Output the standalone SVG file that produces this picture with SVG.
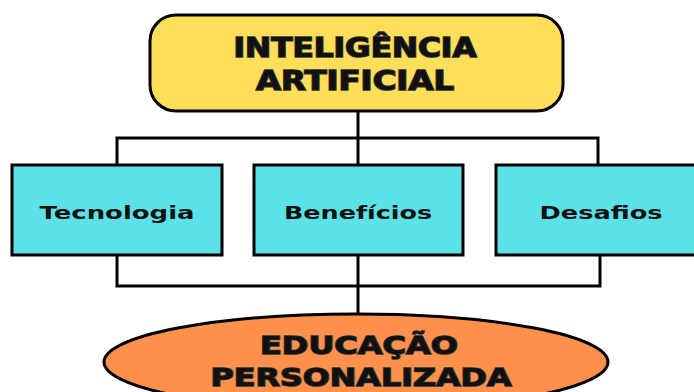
<svg xmlns="http://www.w3.org/2000/svg" width="694" height="392" viewBox="0 0 694 392">
<style>
.conn{fill:none;stroke:#000;stroke-width:3;stroke-linecap:square}
.box{fill:#5CE1E6;stroke:#000;stroke-width:3}
.big{font-family:"DejaVu Sans",sans-serif;font-weight:bold;font-size:26px;fill:#111;stroke:#333;stroke-width:1.6;paint-order:stroke;text-anchor:middle}
.lbl{font-family:"DejaVu Sans",sans-serif;font-weight:bold;font-size:17px;fill:#111;text-anchor:middle}
</style>
<rect width="694" height="392" fill="#fff"/>
<g id="connectors">
<path class="conn" d="M358 111V314"/>
<path class="conn" d="M117 165V138H598V165"/>
<path class="conn" d="M117 255V286H600V255"/>
</g>
<g id="ia">
<rect x="150" y="15" width="413" height="96" rx="26" fill="#FFDE59" stroke="#000" stroke-width="3"/>
<text class="big" x="355" y="57" textLength="243" lengthAdjust="spacingAndGlyphs">INTELIGÊNCIA</text>
<text class="big" x="355" y="90" textLength="198" lengthAdjust="spacingAndGlyphs">ARTIFICIAL</text>
</g>
<g id="tecnologia">
<rect class="box" x="12" y="165" width="210" height="90"/>
<text class="lbl" x="117" y="219" textLength="155" lengthAdjust="spacingAndGlyphs">Tecnologia</text>
</g>
<g id="beneficios">
<rect class="box" x="254" y="165" width="209" height="90"/>
<text class="lbl" x="358" y="219" textLength="148" lengthAdjust="spacingAndGlyphs">Benefícios</text>
</g>
<g id="desafios">
<rect class="box" x="496" y="165" width="210" height="90"/>
<text class="lbl" x="601" y="219" textLength="123" lengthAdjust="spacingAndGlyphs">Desafios</text>
</g>
<g id="educacao">
<ellipse cx="356" cy="362" rx="252" ry="48" fill="#FF914D" stroke="#000" stroke-width="3"/>
<text class="big" x="359" y="354" textLength="198" lengthAdjust="spacingAndGlyphs" style="font-size:25px">EDUCAÇÃO</text>
<text class="big" x="361" y="386" textLength="301" lengthAdjust="spacingAndGlyphs" style="font-size:25px">PERSONALIZADA</text>
</g>
</svg>
